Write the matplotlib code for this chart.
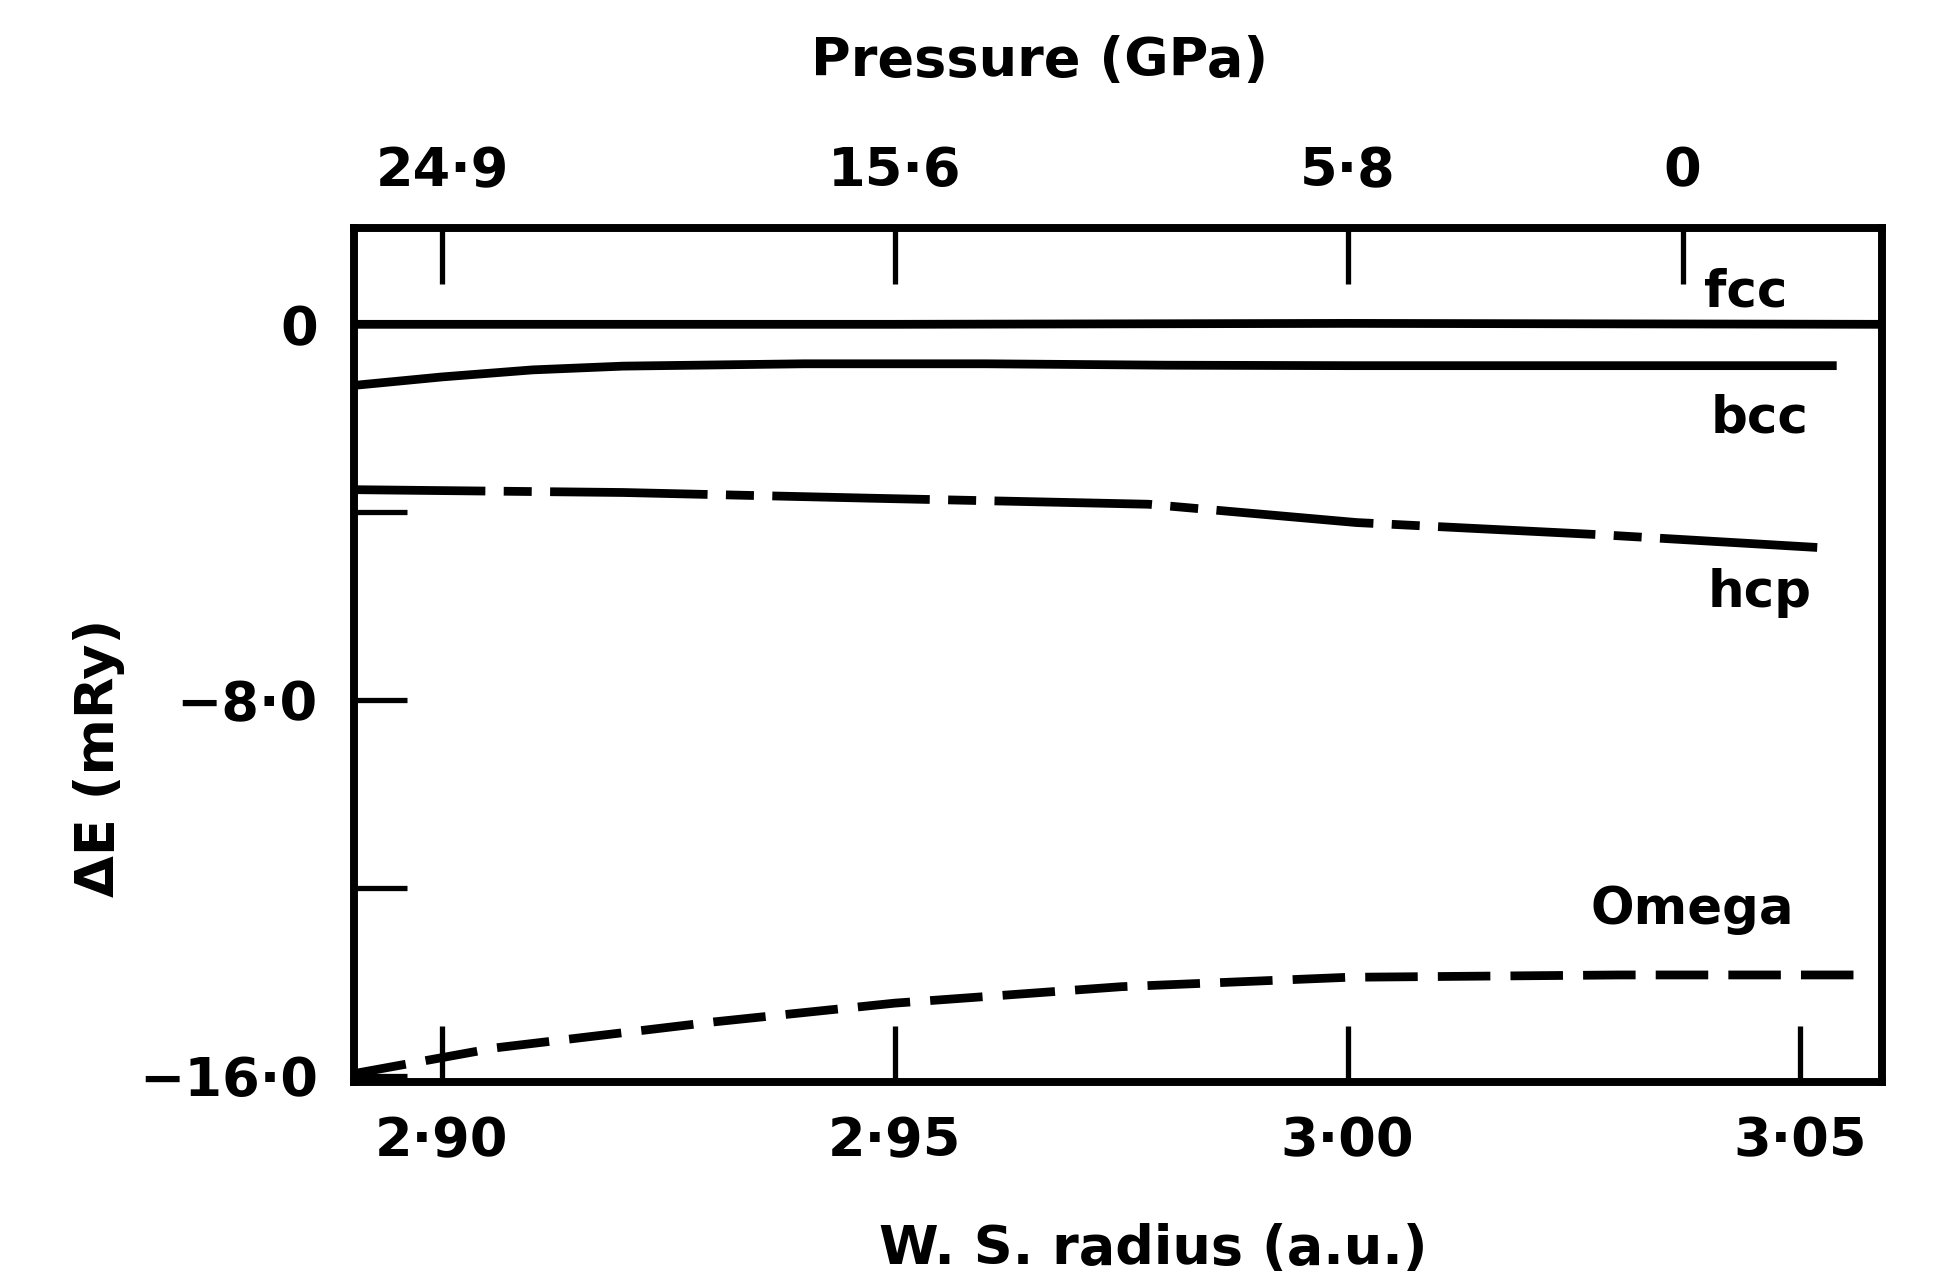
import matplotlib
matplotlib.use("Agg")
import matplotlib.pyplot as plt

# ---- data ----
radius_ticks = [2.90, 2.95, 3.00, 3.05]
radius_ticklabels = ["2·90", "2·95", "3·00", "3·05"]
pressure_pos = [2.90, 2.95, 3.00, 3.037]
pressure_labels = ["24·9", "15·6", "5·8", "0"]
energy_ticks = [0, -4, -8, -12, -16]
energy_ticklabels = ["0", "", "−8·0", "", "−16·0"]

fcc_r = [2.8903, 2.95, 3.00, 3.059]
fcc_e = [0.0, 0.0, 0.02, 0.0]

bcc_r = [2.8903, 2.90, 2.91, 2.92, 2.94, 2.96, 2.98, 3.00, 3.03, 3.054]
bcc_e = [-1.30, -1.12, -0.97, -0.89, -0.84, -0.84, -0.87, -0.88, -0.88, -0.88]

hcp_r = [2.8903, 2.92, 2.947, 2.978, 3.001, 3.028, 3.0536]
hcp_e = [-3.52, -3.58, -3.70, -3.83, -4.22, -4.48, -4.77]

omega_r = [2.8903, 2.906, 2.93, 2.95, 2.975, 3.00, 3.03, 3.0563]
omega_e = [-15.95, -15.40, -14.85, -14.45, -14.10, -13.90, -13.85, -13.85]

label_names = ["fcc", "bcc", "hcp", "Omega"]
label_r = [3.044, 3.0455, 3.0455, 3.038]
label_e = [0.68, -2.0, -5.73, -12.47]

# ---- figure ----
plt.rcParams['font.family'] = ['DejaVu Sans']
plt.rcParams['font.weight'] = 'bold'
fig = plt.figure(figsize=(19.35, 12.81), dpi=100)
ax = fig.add_axes([0.183, 0.1553, 0.7896, 0.6667])

lw = 6.3
ax.plot(fcc_r, fcc_e, color='black', lw=lw, solid_capstyle='butt')
ax.plot(bcc_r, bcc_e, color='black', lw=lw, solid_capstyle='butt')
ax.plot(hcp_r, hcp_e, color='black', lw=lw, linestyle=(3, (18, 2.1, 3.2, 2.1)))
ax.plot(omega_r, omega_e, color='black', lw=lw, linestyle=(0, (6.0, 2.3)))

for name, r, e in zip(label_names, label_r, label_e):
    ax.text(r, e, name, fontsize=37, ha='center', va='center', fontweight='bold')

ax.set_xlim(2.8903, 3.059)
ax.set_ylim(-16.13, 2.05)

ax.set_xticks(radius_ticks)
ax.set_xticklabels(radius_ticklabels, fontsize=39, fontweight='bold')
ax.set_yticks(energy_ticks)
ax.set_yticklabels(energy_ticklabels, fontsize=39, fontweight='bold')
ax.tick_params(axis='x', direction='in', length=40, width=3.8, pad=24, top=False)
ax.tick_params(axis='y', direction='in', length=38, width=3.8, pad=26, right=False)

for s in ax.spines.values():
    s.set_linewidth(5.5)

ax2 = ax.twiny()
ax2.set_xlim(ax.get_xlim())
ax2.set_xticks(pressure_pos)
ax2.set_xticklabels(pressure_labels, fontsize=39, fontweight='bold')
ax2.tick_params(axis='x', direction='in', length=40, width=3.8, pad=22)
for s in ax2.spines.values():
    s.set_linewidth(5.5)

fig.text(0.537, 0.952, "Pressure (GPa)", fontsize=39, ha='center', va='center', fontweight='bold')
fig.text(0.596, 0.025, "W. S. radius (a.u.)", fontsize=39, ha='center', va='center', fontweight='bold')
fig.text(0.051, 0.408, "ΔE (mRy)", fontsize=39, ha='center', va='center', rotation=90, fontweight='bold')

fig.savefig("out.png", dpi=100)
